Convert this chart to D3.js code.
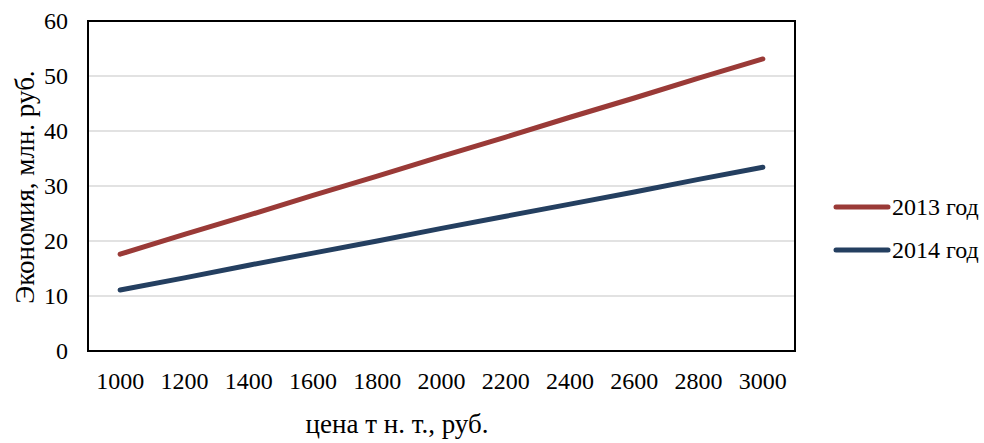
<!DOCTYPE html>
<html><head><meta charset="utf-8">
<script src="https://cdn.jsdelivr.net/npm/d3@7"></script>
</head><body style="margin:0;background:#fff">
<svg id="c" width="984" height="443" font-family="Liberation Serif, Tinos, serif"></svg>
<script>
const categories = ["1000","1200","1400","1600","1800","2000","2200","2400","2600","2800","3000"];
const series2013 = [17.6, 21.2, 24.7, 28.3, 31.8, 35.4, 38.9, 42.5, 46.0, 49.6, 53.1];
const series2014 = [11.1, 13.3, 15.6, 17.8, 20.0, 22.3, 24.5, 26.7, 28.9, 31.2, 33.4];
const yTicks = [0, 10, 20, 30, 40, 50, 60];
const seriesNames = ["2013 год", "2014 год"];
const colors = ["#9a3a37", "#243f60"];
const FS = 24, FT = 27;
const FF = "Liberation Serif, Tinos, serif";

const svg = d3.select("#c");
const L = 88, R = 795, T = 21, B = 351;
const x = d3.scalePoint().domain(categories).range([L, R]).padding(0.5);
const y = d3.scaleLinear().domain([0, 60]).range([B, T]);

function txt(sel, fs) { return sel.attr("font-family", FF).style("font-family", FF).attr("font-size", fs || FS).attr("fill", "#000"); }

// grid
svg.append("g").selectAll("line").data(yTicks.filter(d => d > 0 && d < 60)).join("line")
  .attr("x1", L).attr("x2", R).attr("y1", d => y(d)).attr("y2", d => y(d))
  .attr("stroke", "#d9d9d9").attr("stroke-width", 1.5);

// y labels
txt(svg.append("g").selectAll("text").data(yTicks).join("text")
  .attr("x", 68).attr("y", d => y(d)).attr("dy", "0.34em")
  .attr("text-anchor", "end")).text(d => d);

// x labels
txt(svg.append("g").selectAll("text").data(categories).join("text")
  .attr("x", d => x(d)).attr("y", 389)
  .attr("text-anchor", "middle")).text(d => d);

// border
svg.append("rect").attr("x", L).attr("y", T).attr("width", R - L).attr("height", B - T)
  .attr("fill", "none").attr("stroke", "#000").attr("stroke-width", 2);

// lines
const line = d3.line().x((d, i) => x(categories[i])).y(d => y(d));
[series2013, series2014].forEach((s, k) => {
  svg.append("path").datum(s).attr("d", line).attr("fill", "none")
    .attr("stroke", colors[k]).attr("stroke-width", 5).attr("stroke-linecap", "round");
});

// legend
const ly = [207, 250];
seriesNames.forEach((n, k) => {
  svg.append("line").attr("x1", 836).attr("x2", 888).attr("y1", ly[k]).attr("y2", ly[k])
    .attr("stroke", colors[k]).attr("stroke-width", 5).attr("stroke-linecap", "round");
  txt(svg.append("text").attr("x", 892).attr("y", ly[k]).attr("dy", "0.34em")).text(n);
});

// axis titles
txt(svg.append("text").attr("transform", "translate(34,187) rotate(-90)")
  .attr("text-anchor", "middle"), FT).text("Экономия, млн. руб.");
txt(svg.append("text").attr("x", 397).attr("y", 433).attr("text-anchor", "middle"), FT).text("цена т н. т., руб.");
</script>
</body></html>
